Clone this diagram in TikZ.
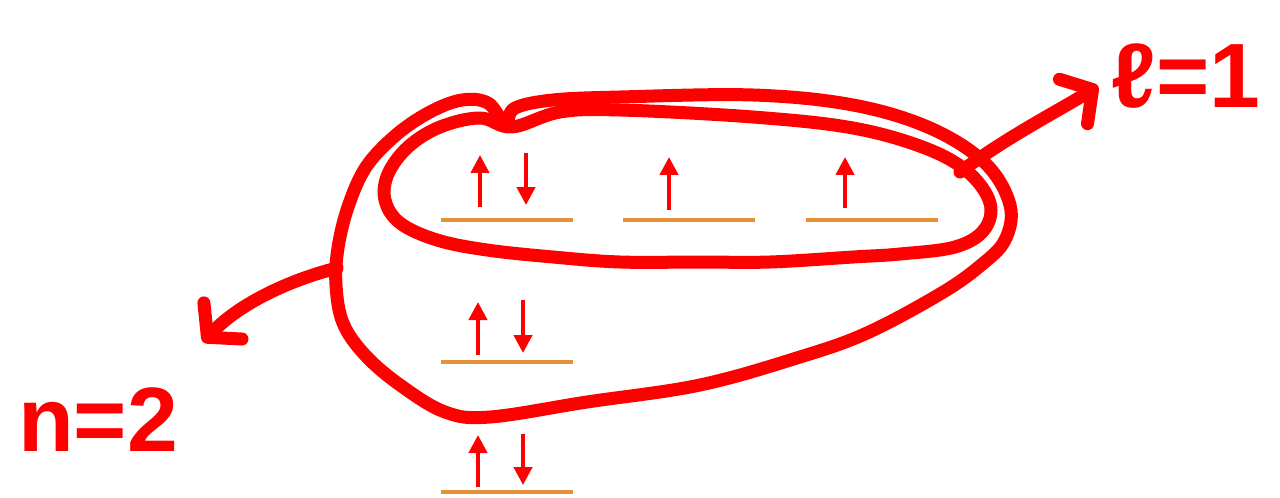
\documentclass[tikz,border=0pt]{standalone}
\usepackage{fontspec}
\setmainfont{Liberation Sans}
\usepackage{tikz}
\usetikzlibrary{arrows.meta}
\definecolor{shell}{RGB}{255,0,0}
\definecolor{level}{RGB}{230,145,56}

\begin{document}
\begin{tikzpicture}[x=0.02cm, y=-0.02cm,
  orb/.style={draw=level, line width=2.2pt},
  spin/.style={draw=shell, line width=2.4pt, -{Triangle[length=0.36cm, width=0.36cm]}},
  ring/.style={draw=shell, line width=7.4pt, line cap=round, line join=round},
  tag/.style={ring, -{Straight Barb[length=0.45cm, width=1.05cm, round]}},
  hand/.style={text=shell, inner sep=0pt, font=\bfseries\fontsize{52}{60}\selectfont}]
\useasboundingbox (0,0) rectangle (1280,497);

% energy levels
\foreach \x/\y in {507/220, 689/220, 872/220, 507/362, 507/492}
  \draw[orb] (\x-66,\y) -- (\x+66,\y);

% electrons
\foreach \x/\ya/\yb in {480/207/155, 669/210/157, 845/208/157, 478/355/302, 478/487/435}
  \draw[spin] (\x,\ya) -- (\x,\yb);
\foreach \x/\ya/\yb in {526/153/205, 523/300/353, 523/434/485}
  \draw[spin] (\x,\ya) -- (\x,\yb);

% subshell l=1
\draw[ring] plot[smooth cycle, tension=0.6] coordinates {(512,127) (560,112) (620,110) (753,117)
  (853,128) (925,148) (968,172) (990,203) (984,230) (955,247) (900,254) (853,257) (770,262)
  (700,262) (620,262) (553,257) (487,250) (437,240) (400,223) (385,200) (388,174) (408,147)
  (440,127) (480,118)};

% shell n=2
\draw[ring] plot[smooth cycle, tension=0.6] coordinates {(505,123) (515,108) (553,100) (620,97)
  (753,95) (853,105) (930,128) (985,163) (1010,205) (1005,240) (980,266) (940,294)
  (867,333) (800,357) (700,385) (587,402) (490,417) (445,412) (400,385) (365,355)
  (343,323) (336,285) (338,248) (348,207) (366,167) (396,135) (430,112) (462,100) (488,103)};

\coordinate (nside) at (337,268);
\coordinate (ntip) at (203,342);
\coordinate (lside) at (960,172);
\coordinate (ltip) at (1098,86);

\node[hand] (n2) at (98,420) {n=2};
\node[hand] (l1) at (1186,76) {ℓ=1};

\draw[tag] (nside) .. controls (290,280) and (240,303) .. (ntip);
\draw[tag] (lside) .. controls (1010,135) and (1060,110) .. (ltip);
\end{tikzpicture}
\end{document}
